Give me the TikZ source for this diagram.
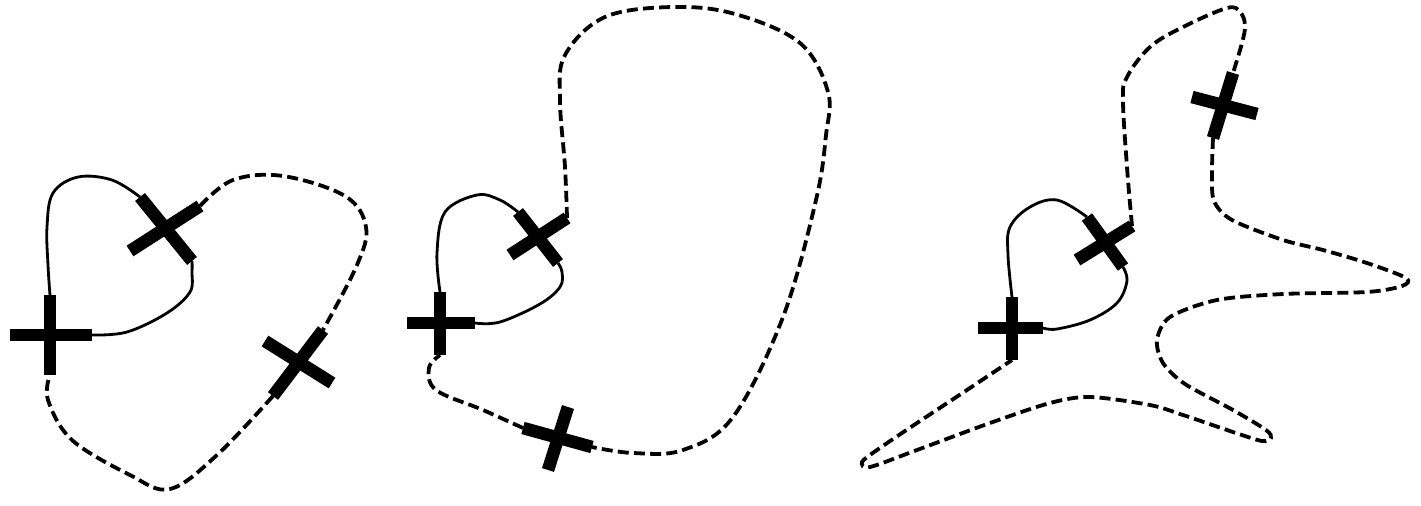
\documentclass[tikz,border=0pt]{standalone}
\begin{document}
\begin{tikzpicture}[x=0.5pt,y=-0.5pt,
  bar/.style={line width=6.3pt,line cap=butt},
  solidc/.style={line width=1.4pt},
  dashc/.style={line width=1.9pt,dash pattern=on 5.5pt off 2.6pt},
  sm/.style={smooth,tension=0.6}]
\useasboundingbox (0,0) rectangle (1421,505);
% ---------- shape 1 ----------
\coordinate (a1l) at (10,335); \coordinate (a1r) at (92,335);
\coordinate (a1t) at (50,295); \coordinate (a1b) at (50,375);
\coordinate (b1t) at (140,197); \coordinate (b1b) at (192,261);
\coordinate (b1p) at (130,251); \coordinate (b1q) at (200,206);
\coordinate (c1t) at (323,330); \coordinate (c1b) at (273,396);
\coordinate (c1p) at (265,341); \coordinate (c1q) at (332,383);
\draw[bar] (a1l) -- (a1r); \draw[bar] (a1t) -- (a1b);
\draw[bar] (b1t) -- (b1b); \draw[bar] (b1p) -- (b1q);
\draw[bar] (c1t) -- (c1b); \draw[bar] (c1p) -- (c1q);
\draw[solidc] plot[sm] coordinates {(a1r) (127,332) (167,313) (190,292) (192,272) (b1b)};
\draw[solidc] plot[sm] coordinates {(b1t) (112,180) (78,177) (53,193) (47,227) (48,265) (a1t)};
\draw[dashc] plot[sm] coordinates {(b1q) (233,180) (283,176) (345,196) (366,227) (357,265) (c1t)};
\draw[dashc] plot[sm] coordinates {(c1b) (217,455) (170,489) (130,475) (72,440) (48,400) (a1b)};
% ---------- shape 2 ----------
\coordinate (a2l) at (407,323); \coordinate (a2r) at (475,323);
\coordinate (a2t) at (440,292); \coordinate (a2b) at (440,355);
\coordinate (b2t) at (518,212); \coordinate (b2b) at (558,263);
\coordinate (b2p) at (510,255); \coordinate (b2q) at (567,218);
\coordinate (c2t) at (523,428); \coordinate (c2b) at (592,447);
\coordinate (c2p) at (568,407); \coordinate (c2q) at (548,470);
\draw[bar] (a2l) -- (a2r); \draw[bar] (a2t) -- (a2b);
\draw[bar] (b2t) -- (b2b); \draw[bar] (b2p) -- (b2q);
\draw[bar] (c2t) -- (c2b); \draw[bar] (c2p) -- (c2q);
\draw[solidc] plot[sm] coordinates {(a2r) (500,322) (540,304) (560,287) (562,272) (b2b)};
\draw[solidc] plot[sm] coordinates {(b2t) (500,200) (477,195) (445,212) (437,253) (a2t)};
\draw[dashc] plot[sm] coordinates {(b2q) (565,167) (560,100) (565,55) (605,17) (673,7) (735,14) (800,43) (828,92) (826,135) (816,200) (783,317) (733,417) (683,450) (633,453) (c2b)};
\draw[dashc] plot[sm] coordinates {(c2t) (483,410) (436,390) (429,368) (a2b)};
% ---------- shape 3 ----------
\coordinate (a3l) at (978,328); \coordinate (a3r) at (1043,328);
\coordinate (a3t) at (1012,297); \coordinate (a3b) at (1012,360);
\coordinate (b3t) at (1087,217); \coordinate (b3b) at (1123,267);
\coordinate (b3p) at (1077,260); \coordinate (b3q) at (1132,226);
\coordinate (d3t) at (1233,73); \coordinate (d3b) at (1213,138);
\coordinate (d3p) at (1192,97); \coordinate (d3q) at (1257,114);
\draw[bar] (a3l) -- (a3r); \draw[bar] (a3t) -- (a3b);
\draw[bar] (b3t) -- (b3b); \draw[bar] (b3p) -- (b3q);
\draw[bar] (d3t) -- (d3b); \draw[bar] (d3p) -- (d3q);
\draw[solidc] plot[sm] coordinates {(a3r) (1057,329) (1090,320) (1117,303) (1127,281) (b3b)};
\draw[solidc] plot[sm] coordinates {(b3t) (1057,200) (1030,207) (1010,227) (1008,255) (a3t)};
\draw[dashc] plot[sm] coordinates {(b3q) (1127,167) (1123,100) (1127,77) (1150,47) (1183,27) (1227,8) (1240,12) (1245,25) (1242,43) (d3t)};
\draw[dashc] plot[sm,tension=0.5] coordinates {(d3b) (1212,173) (1214,201) (1232,220) (1283,240) (1323,250) (1367,263) (1406,278) (1402,286) (1367,292) (1283,294) (1217,300) (1170,317) (1157,340) (1163,363) (1185,384) (1233,410) (1266,430) (1271,438) (1262,441) (1233,432) (1183,415) (1150,405) (1090,397) (1050,403) (990,423) (917,450) (870,467) (862,462) (877,450) (917,423) (967,390) (a3b)};
\end{tikzpicture}
\end{document}
